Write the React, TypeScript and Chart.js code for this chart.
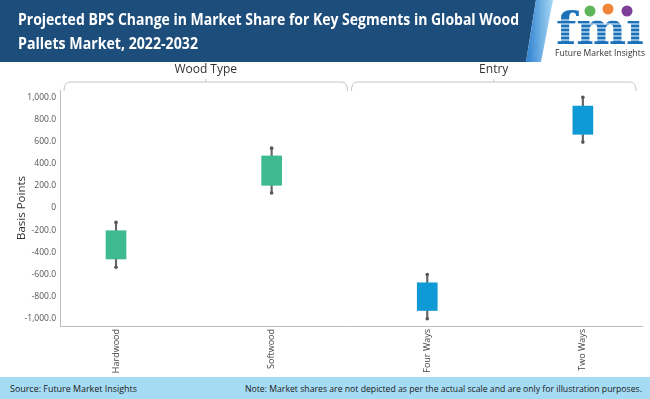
import React, { useEffect, useRef } from 'react';
import { Chart, registerables } from 'chart.js';

Chart.register(...registerables);

// ---- data ----
const categories = ['Hardwood', 'Softwood', 'Four Ways', 'Two Ways'];
const groupLabels = ['Wood Type', 'Entry'];
const lowValues = [-535, 135, -1000, 595];
const q1Values = [-460, 205, -925, 665];
const q3Values = [-205, 470, -675, 920];
const highValues = [-130, 540, -600, 1000];
const boxColors = ['#3dba8f', '#3dba8f', '#0f9ad6', '#0f9ad6'];
const yTickValues = [-1000, -800, -600, -400, -200, 0, 200, 400, 600, 800, 1000];

const FONT = '"Open Sans", "Noto Sans", sans-serif';

const bracePlugin = {
  id: 'groupBrace',
  afterDraw(chart: any) {
    const { ctx, chartArea, scales } = chart;
    const xs = scales.x;
    const left = chartArea.left + 4;
    const right = chartArea.right - 6;
    const mid = xs.getPixelForValue(1.5);
    const yLine = 82;
    const yEnd = 91;
    const r = 6;
    ctx.save();
    ctx.strokeStyle = '#c4c4c4';
    ctx.lineWidth = 1;
    const seg = (a: number, b: number) => {
      ctx.beginPath();
      ctx.moveTo(a, yEnd);
      ctx.quadraticCurveTo(a, yLine, a + r, yLine);
      ctx.lineTo(b - r, yLine);
      ctx.quadraticCurveTo(b, yLine, b, yEnd);
      ctx.stroke();
      const c = (a + b) / 2;
      ctx.beginPath();
      ctx.moveTo(c, yLine);
      ctx.lineTo(c, yLine - 3);
      ctx.stroke();
    };
    seg(left, mid - 2);
    seg(mid + 2, right);
    ctx.fillStyle = '#333';
    ctx.font = `12px ${FONT}`;
    ctx.textAlign = 'center';
    ctx.textBaseline = 'middle';
    ctx.fillText(groupLabels[0], (left + mid - 2) / 2, 70);
    ctx.fillText(groupLabels[1], (mid + 2 + right) / 2, 70);
    ctx.restore();
  },
};

export default function App() {
  const ref = useRef<HTMLCanvasElement | null>(null);

  useEffect(() => {
    if (!ref.current) return;
    const chart = new Chart(ref.current, {
      type: 'bar',
      data: {
        datasets: [
          {
            type: 'scatter',
            data: [
              ...categories.map((_, i) => ({ x: i, y: lowValues[i] })),
              ...categories.map((_, i) => ({ x: i, y: highValues[i] })),
            ],
            pointRadius: 1.8,
            pointBackgroundColor: '#555',
            pointBorderWidth: 0,
            order: 0,
          } as any,
          {
            type: 'bar',
            data: categories.map((_, i) => ({ x: i, y: [q1Values[i], q3Values[i]] })),
            backgroundColor: boxColors,
            barThickness: 20,
            grouped: false,
            order: 1,
          } as any,
          {
            type: 'bar',
            data: categories.map((_, i) => ({ x: i, y: [lowValues[i], highValues[i]] })),
            backgroundColor: '#666',
            barThickness: 1.5,
            grouped: false,
            order: 2,
          } as any,
        ],
      },
      options: {
        animation: false,
        responsive: false,
        maintainAspectRatio: false,
        devicePixelRatio: 1,
        layout: { padding: { left: 13, top: 90, right: 8, bottom: 0 } },
        plugins: { legend: { display: false }, tooltip: { enabled: false } },
        scales: {
          x: {
            type: 'linear',
            min: -0.36,
            max: 3.38,
            offset: false,
            grid: { display: false, drawTicks: false },
            border: { color: '#bdbdbd' },
            afterBuildTicks: (s: any) => {
              s.ticks = categories.map((_, i) => ({ value: i }));
            },
            afterFit: (s: any) => {
              s.height = 73;
            },
            ticks: {
              callback: (v: any) => categories[v] ?? '',
              minRotation: 90,
              maxRotation: 90,
              autoSkip: false,
              padding: 3,
              color: '#444',
              font: { family: FONT, size: 9 },
            },
          },
          y: {
            min: -1065,
            max: 1065,
            grid: { display: false, drawTicks: false },
            border: { color: '#bdbdbd' },
            afterBuildTicks: (s: any) => {
              s.ticks = yTickValues.map((v) => ({ value: v }));
            },
            afterFit: (s: any) => {
              s.width = 47;
            },
            ticks: {
              callback: (v: any) =>
                v === 0
                  ? '0'
                  : Number(v).toLocaleString('en-US', { minimumFractionDigits: 1, maximumFractionDigits: 1 }),
              color: '#555',
              padding: 4,
              font: { family: FONT, size: 8.5 },
            },
            title: {
              display: true,
              text: 'Basis Points',
              color: '#333',
              font: { family: FONT, size: 11.5 },
              padding: 2,
            },
          },
        },
      } as any,
      plugins: [bracePlugin],
    });
    return () => chart.destroy();
  }, []);

  return (
    <div style={{ position: 'fixed', left: 0, top: 0, width: 650, height: 399, background: '#fff', overflow: 'hidden' }}>
      <canvas ref={ref} width={650} height={399} style={{ position: 'absolute', left: 0, top: 0, width: 650, height: 399 }} />
      <svg width={650} height={64} style={{ position: 'absolute', left: 0, top: 0 }}>
        <defs>
          <linearGradient id="stripe" x1="0" y1="0" x2="1" y2="0">
            <stop offset="0" stopColor="#2b7fcf" />
            <stop offset="1" stopColor="#a8d8f5" />
          </linearGradient>
        </defs>
        <polygon points="0,0 536,0 526,62 0,62" fill="#1c4d7b" />
        <polygon points="536,0 553,0 541,62 526,62" fill="url(#stripe)" />
        <text x={18} y={25} fill="#fff" fontFamily={FONT} fontWeight="bold" fontSize={15.5} textLength={501} lengthAdjust="spacingAndGlyphs">
          Projected BPS Change in Market Share for Key Segments in Global Wood
        </text>
        <text x={18} y={49} fill="#fff" fontFamily={FONT} fontWeight="bold" fontSize={15.5} textLength={180} lengthAdjust="spacingAndGlyphs">
          Pallets Market, 2022-2032
        </text>
        {/* logo */}
        <circle cx={590} cy={11} r={5.5} fill="#5db65a" />
        <circle cx={608} cy={9} r={5.5} fill="#ef8637" />
        <circle cx={627} cy={11} r={5.5} fill="#7d3f98" />
        <text x={556} y={44} fill="#1b72bb" fontFamily="DejaVu Serif" fontWeight="bold" fontSize={44} textLength={88} lengthAdjust="spacingAndGlyphs">
          fmı
        </text>
        {[20, 24, 28, 32, 36, 40].map((y) => (
          <line key={y} x1={554} x2={648} y1={y} y2={y} stroke="#fff" strokeWidth={1} />
        ))}
        <text x={555} y={56} fill="#333" fontFamily={FONT} fontSize={9} textLength={90} lengthAdjust="spacingAndGlyphs">
          Future Market Insights
        </text>
      </svg>
      <svg width={650} height={22} style={{ position: 'absolute', left: 0, top: 377 }}>
        <rect x={0} y={0} width={650} height={22} fill="#a6dcf3" />
        <text x={10} y={15} fill="#1a1a1a" fontFamily={FONT} fontSize={9.5} textLength={127} lengthAdjust="spacingAndGlyphs">
          Source: Future Market Insights
        </text>
        <text x={245} y={15} fill="#1a1a1a" fontFamily={FONT} fontSize={9.5} textLength={397} lengthAdjust="spacingAndGlyphs">
          Note: Market shares are not depicted as per the actual scale and are only for illustration purposes.
        </text>
      </svg>
    </div>
  );
}
